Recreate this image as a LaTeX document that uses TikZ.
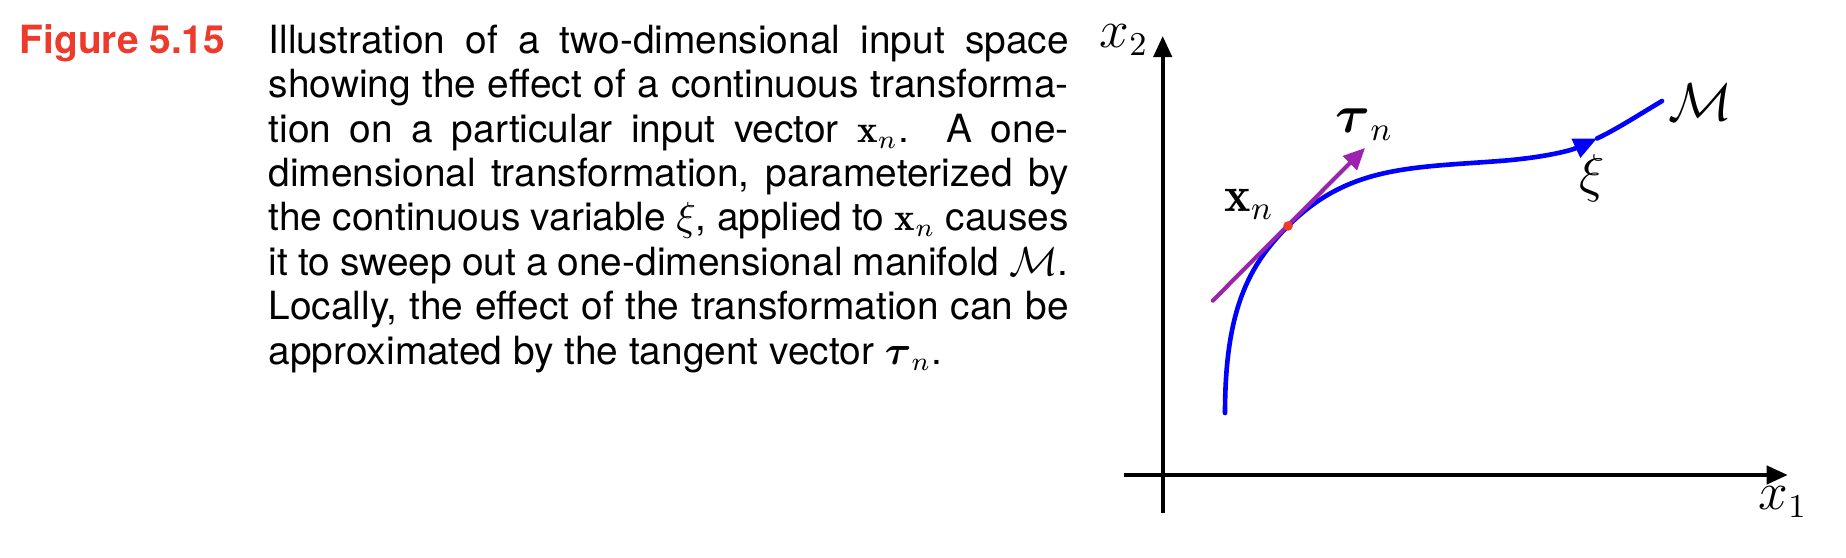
\documentclass[tikz,border=0pt]{standalone}
\usepackage{amsmath}
\usepackage{fontspec}
\setsansfont{TeX Gyre Heros}
\usetikzlibrary{arrows.meta}
\definecolor{figred}{RGB}{237,58,43}
\definecolor{tanpurple}{RGB}{158,34,176}
\definecolor{dotred}{RGB}{238,60,40}
\begin{document}
\begin{tikzpicture}[x=0.27027pt,y=-0.27027pt,
  axis/.style={line width=1.08pt, -{Triangle[length=5.7pt,width=4.9pt]}},
  manifold/.style={blue, line width=1.25pt, line cap=round},
  tangent/.style={tanpurple, line width=1.1pt, line cap=round, -{Triangle[length=5.8pt,width=5.2pt]}},
  lbl/.style={font=\fontsize{13.5}{16}\selectfont, inner sep=0pt},
  caption/.style={font=\sffamily\fontsize{10.5}{12}\selectfont, inner sep=0pt, anchor=base west}]
\useasboundingbox (0,0) rectangle (1846,558);

% caption
\node[caption, text=figred, font=\sffamily\bfseries\fontsize{10.5}{12}\selectfont] (fig) at (19,53.3) {Figure 5.15};
\node[caption] (cap) at (268,53.3) {\parbox[t]{216.2pt}{%
\hbox to\hsize{Illustration of a two-dimensional input space}%
\hbox to\hsize{showing the effect of a continuous transforma-}%
\hbox to\hsize{tion on a particular input vector $\mathbf{x}_n$.  A one-}%
\hbox to\hsize{dimensional transformation, parameterized by}%
\hbox to\hsize{the continuous variable $\xi$, applied to $\mathbf{x}_n$ causes}%
\hbox to\hsize{it to sweep out a one-dimensional manifold $\mathcal{M}$.}%
\hbox to\hsize{Locally, the effect of the transformation can be}%
\hbox to\hsize{approximated by the tangent vector $\boldsymbol{\tau}_n$.\hfil}}};

% axes
\coordinate (ybot) at (1162.7,513);
\coordinate (ytop) at (1162.7,36);
\coordinate (xleft) at (1124,475);
\coordinate (xright) at (1787.7,475);
\draw[axis] (ybot) -- (ytop);
\draw[axis] (xleft) -- (xright);
\node[lbl] (x2lab) at (1124,40) {$x_2$};
\node[lbl] (x1lab) at (1783,502) {$x_1$};

% manifold curve
\coordinate (start) at (1225,413);
\coordinate (xn) at (1288,226);
\coordinate (mid) at (1500,161);
\coordinate (arr) at (1597,138.5);
\coordinate (cend) at (1662,101);
\draw[manifold] (start) .. controls (1225,309) and (1249.3,264.7) .. (xn)
  .. controls (1348,166) and (1410,167.8) .. (mid);
\draw[manifold, -{Triangle[length=6.3pt,width=5.4pt]}] (mid) .. controls (1544,157.6) and (1571,150.5) .. (arr);
\draw[manifold] (arr) .. controls (1616,129.5) and (1635,117.2) .. (cend);

% tangent vector
\coordinate (t0) at (1212.7,300.7);
\coordinate (t1) at (1365,148);
\draw[tangent] (t0) -- (t1);
\fill[dotred] (xn) circle[radius=4.8];

% labels
\node[lbl, anchor=base west] (xnlab) at (1224,212) {$\mathbf{x}_n$};
\node[lbl, anchor=base west] (taulab) at (1335,133) {$\boldsymbol{\tau}_n$};
\node[lbl] (Mlab) at (1700,102) {$\mathcal{M}$};
\node[lbl] (xilab) at (1592,178) {$\xi$};
\end{tikzpicture}
\end{document}
